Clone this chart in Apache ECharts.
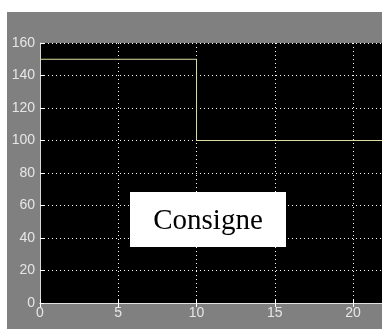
<!DOCTYPE html>
<html><head><meta charset="utf-8">
<script src="https://cdn.jsdelivr.net/npm/echarts@6/dist/echarts.min.js"></script>
<style>
html,body{margin:0;padding:0;background:#fff;width:382px;height:329px;overflow:hidden;}
#c{position:absolute;left:7px;top:12px;width:375px;height:317px;background:#808080;}
</style></head>
<body><div id="c"></div>
<script>
// Data
const timeValues = [0, 10, 30];
const consigneValues = [150, 100, 100];
const xTicks = [0, 5, 10, 15, 20];
const xVisibleMax = 21.85;
const yTicks = [0, 20, 40, 60, 80, 100, 120, 140, 160];
const labelText = 'Consigne';

const chart = echarts.init(document.getElementById('c'), null, {renderer: 'canvas'});
const tickFont = {color: '#e6e6e6', fontFamily: '"Liberation Sans Narrow", "Arial Narrow", Arial, sans-serif', fontSize: 14};
const gridDot = {color: '#ffffff', width: 1, type: [1, 3]};
chart.setOption({
  backgroundColor: 'transparent',
  animation: false,
  grid: {left: 33, top: 31, right: 0, height: 260, show: true, backgroundColor: '#000', borderWidth: 0},
  xAxis: [{
    type: 'value', min: xTicks[0], max: xVisibleMax, interval: 5,
    axisLine: {show: true, onZero: false, lineStyle: {color: '#f0f0f0', width: 1}},
    axisTick: {show: true, inside: true, length: 4, lineStyle: {color: '#fff'}},
    axisLabel: Object.assign({margin: 3, showMaxLabel: false}, tickFont),
    splitLine: {show: true, lineStyle: gridDot}
  }, {
    type: 'value', position: 'top', min: xTicks[0], max: xVisibleMax, interval: 5,
    axisLine: {show: true, lineStyle: {color: '#e0e0e0', width: 1}},
    axisTick: {show: true, inside: true, length: 4, lineStyle: {color: '#fff'}},
    axisLabel: {show: false}, splitLine: {show: false}
  }],
  yAxis: {
    type: 'value', min: yTicks[0], max: yTicks[yTicks.length - 1], interval: 20,
    axisLine: {show: true, onZero: false, lineStyle: {color: '#d8d8d8', width: 1}},
    axisTick: {show: true, inside: true, length: 4, lineStyle: {color: '#fff'}},
    axisLabel: Object.assign({margin: 5}, tickFont),
    splitLine: {show: true, lineStyle: gridDot}
  },
  series: [{
    type: 'line', step: 'end', showSymbol: false, symbol: 'none', clip: true,
    data: timeValues.map((t, i) => [t, consigneValues[i]]),
    lineStyle: {color: '#dcdc9c', width: 1}
  }],
  graphic: [{
    type: 'group', z: 100,
    children: [
      {type: 'rect', shape: {x: 123, y: 180, width: 156, height: 55}, style: {fill: '#ffffff'}},
      {type: 'text', x: 201, y: 224, style: {text: labelText, fill: '#000', font: '29px "Liberation Serif", "Times New Roman", serif', textAlign: 'center', textVerticalAlign: 'bottom'}}
    ]
  }]
});
</script></body></html>
